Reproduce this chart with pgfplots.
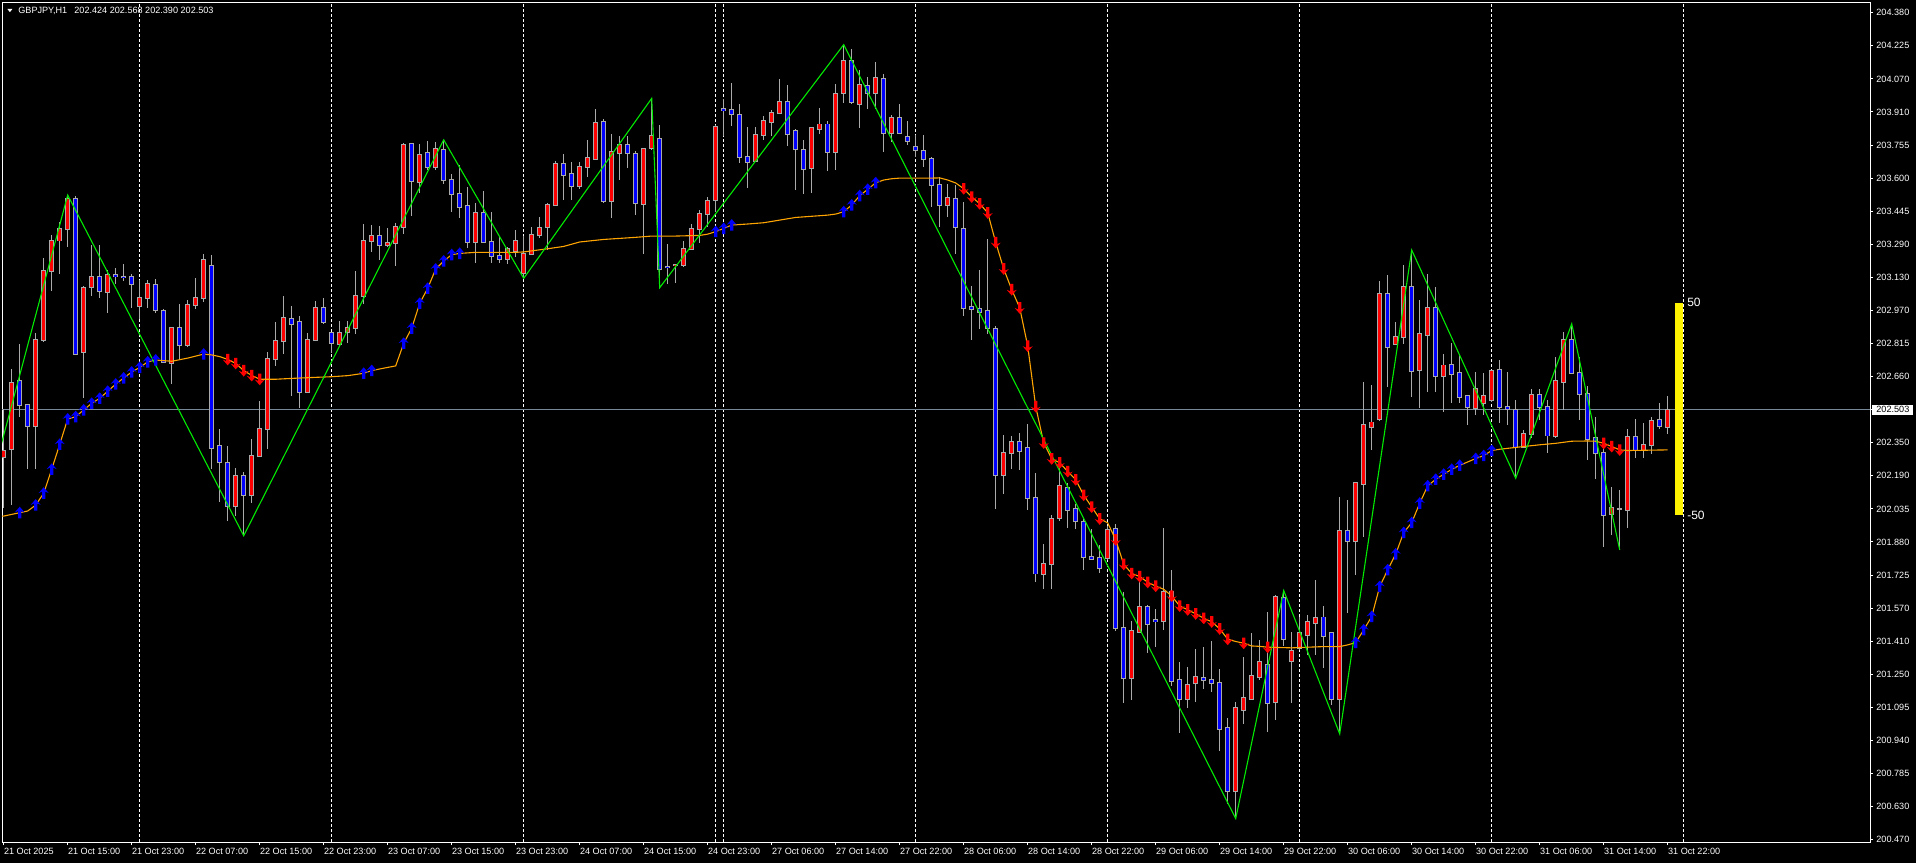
\documentclass[border=0pt]{standalone}
\usepackage{fontspec}
\setmainfont{Liberation Sans}
\usepackage{pgfplots}
\usepackage{pgfplotstable}
\pgfplotsset{compat=1.18}

\definecolor{wickgray}{RGB}{170,170,170}
\definecolor{bullred}{RGB}{255,0,0}
\definecolor{bearblue}{RGB}{0,0,255}
\definecolor{maorange}{RGB}{255,165,0}
\definecolor{zzgreen}{RGB}{0,235,0}
\definecolor{pricegray}{RGB}{119,136,153}

% arrow marks of the trend indicator
\pgfdeclareplotmark{uparr}{%
  \pgfpathmoveto{\pgfqpoint{0pt}{3pt}}%
  \pgfpathlineto{\pgfqpoint{2.5pt}{0.1pt}}%
  \pgfpathlineto{\pgfqpoint{0.85pt}{0.8pt}}%
  \pgfpathlineto{\pgfqpoint{0.85pt}{-2.8pt}}%
  \pgfpathlineto{\pgfqpoint{-0.85pt}{-2.8pt}}%
  \pgfpathlineto{\pgfqpoint{-0.85pt}{0.8pt}}%
  \pgfpathlineto{\pgfqpoint{-2.5pt}{0.1pt}}%
  \pgfpathclose\pgfusepathqfill}
\pgfdeclareplotmark{downarr}{%
  \pgfpathmoveto{\pgfqpoint{0pt}{-3pt}}%
  \pgfpathlineto{\pgfqpoint{2.5pt}{-0.1pt}}%
  \pgfpathlineto{\pgfqpoint{0.85pt}{-0.8pt}}%
  \pgfpathlineto{\pgfqpoint{0.85pt}{2.8pt}}%
  \pgfpathlineto{\pgfqpoint{-0.85pt}{2.8pt}}%
  \pgfpathlineto{\pgfqpoint{-0.85pt}{-0.8pt}}%
  \pgfpathlineto{\pgfqpoint{-2.5pt}{-0.1pt}}%
  \pgfpathclose\pgfusepathqfill}

% bullish candles (close > open), bar index i
\pgfplotstableread{
i o h l c
0 202.278 202.509 202.037 202.309
1 202.316 202.694 202.052 202.632
4 202.427 202.867 202.221 202.836
5 202.834 203.219 202.825 203.159
6 203.162 203.329 203.066 203.304
7 203.304 203.392 203.146 203.360
8 203.360 203.518 203.274 203.502
10 202.777 203.090 202.561 203.082
11 203.082 203.282 203.042 203.132
13 203.063 203.163 202.959 203.141
17 202.995 203.116 202.935 203.030
18 203.030 203.116 202.985 203.100
21 202.722 202.896 202.623 202.888
23 202.812 203.022 202.801 203.001
24 203.001 203.127 202.979 203.031
25 203.030 203.242 203.014 203.209
29 202.048 202.226 202.002 202.188
31 202.103 202.363 202.063 202.287
32 202.287 202.544 202.281 202.412
33 202.412 202.776 202.319 202.741
34 202.741 202.921 202.711 202.826
35 202.826 203.041 202.769 202.935
38 202.586 202.865 202.581 202.831
39 202.831 203.019 202.830 202.983
42 202.813 202.923 202.801 202.865
43 202.869 202.923 202.820 202.891
44 202.891 203.159 202.865 203.041
45 203.043 203.380 203.006 203.301
46 203.301 203.380 203.251 203.325
48 203.281 203.361 203.274 203.290
49 203.290 203.388 203.184 203.367
50 203.367 203.762 203.334 203.758
52 203.582 203.762 203.531 203.711
54 203.649 203.768 203.637 203.734
59 203.298 203.484 203.199 203.432
63 203.214 203.271 203.195 203.262
64 203.255 203.353 203.227 203.301
65 203.148 203.322 203.124 203.240
66 203.240 203.367 203.235 203.329
67 203.328 203.416 203.314 203.363
68 203.366 203.484 203.259 203.470
69 203.470 203.679 203.467 203.665
72 203.562 203.674 203.545 203.650
73 203.649 203.778 203.605 203.691
74 203.691 203.928 203.683 203.861
76 203.491 203.809 203.411 203.723
77 203.715 203.797 203.589 203.753
80 203.478 203.743 203.242 203.739
81 203.743 203.975 203.731 203.800
84 203.187 203.195 203.103 203.190
85 203.187 203.302 203.179 203.264
86 203.264 203.384 203.258 203.359
87 203.359 203.447 203.289 203.428
88 203.428 203.510 203.368 203.493
89 203.494 203.849 203.439 203.841
94 203.680 203.841 203.675 203.805
95 203.800 203.891 203.778 203.866
96 203.865 203.920 203.797 203.909
97 203.909 204.069 203.907 203.958
101 203.644 203.838 203.529 203.836
102 203.833 203.932 203.809 203.852
104 203.723 204.043 203.636 203.999
105 203.999 204.229 203.951 204.150
107 203.951 204.112 203.836 204.038
109 204.003 204.150 203.926 204.074
111 203.814 203.896 203.770 203.885
118 203.474 203.570 203.415 203.505
125 202.196 202.383 202.106 202.297
126 202.297 202.378 202.224 202.349
130 201.725 201.869 201.657 201.773
131 201.775 202.005 201.654 201.990
132 201.990 202.252 201.975 202.140
138 201.803 201.953 201.794 201.938
141 201.237 201.504 201.130 201.457
142 201.454 201.710 201.448 201.570
145 201.504 201.944 201.463 201.641
148 201.134 201.289 201.093 201.201
149 201.209 201.373 201.121 201.242
154 200.700 201.121 200.570 201.093
155 201.083 201.336 201.018 201.140
156 201.136 201.448 201.130 201.242
157 201.239 201.414 201.224 201.312
159 201.123 201.630 201.036 201.616
161 201.317 201.454 201.118 201.363
162 201.375 201.525 201.367 201.446
163 201.440 201.533 201.344 201.498
164 201.496 201.698 201.344 201.517
167 201.134 202.092 200.970 201.931
169 201.884 202.160 201.722 202.155
170 202.155 202.636 201.903 202.431
171 202.423 202.620 202.313 202.444
172 202.458 203.112 202.450 203.049
174 202.812 202.920 202.809 202.846
175 202.846 203.188 202.817 203.085
177 202.694 203.022 202.510 202.860
178 202.860 203.145 202.589 202.987
180 202.663 202.767 202.494 202.713
184 202.510 202.682 202.478 202.600
185 202.537 202.675 202.478 202.568
186 202.549 202.691 202.541 202.688
190 202.325 202.407 202.321 202.387
191 202.387 202.600 202.368 202.573
194 202.381 202.754 202.368 202.642
195 202.633 202.872 202.502 202.833
201 202.010 202.139 201.911 202.037
203 202.032 202.415 201.947 202.376
205 202.313 202.442 202.277 202.335
206 202.335 202.470 202.294 202.452
208 202.424 202.568 202.390 202.503
}\bull

% bearish candles (close <= open)
\pgfplotstableread{
i o h l c
2 202.642 202.814 202.467 202.524
3 202.524 202.530 202.224 202.426
9 203.498 203.513 202.760 202.769
12 203.129 203.282 203.034 203.063
14 203.141 203.176 203.100 203.134
15 203.132 203.192 203.113 203.130
16 203.129 203.148 202.985 203.100
19 203.091 203.123 202.959 202.973
20 202.973 202.982 202.725 202.730
22 202.888 203.001 202.743 202.812
26 203.186 203.233 202.224 202.325
27 202.330 202.412 202.068 202.254
28 202.254 202.331 201.975 202.048
30 202.188 202.207 201.907 202.100
36 202.935 202.994 202.570 202.912
37 202.917 202.946 202.513 202.586
40 202.983 203.035 202.912 202.917
41 202.865 202.873 202.770 202.817
47 203.325 203.372 203.210 203.281
51 203.758 203.766 203.421 203.582
53 203.716 203.775 203.637 203.649
55 203.734 203.779 203.572 203.588
56 203.588 203.616 203.440 203.522
57 203.526 203.660 203.410 203.465
58 203.465 203.555 203.270 203.298
60 203.432 203.537 203.290 203.295
61 203.298 203.437 203.199 203.229
62 203.229 203.322 203.195 203.214
70 203.665 203.712 203.494 203.611
71 203.616 203.674 203.494 203.562
75 203.861 203.876 203.482 203.491
78 203.753 203.797 203.646 203.715
79 203.715 203.727 203.423 203.483
82 203.786 203.849 203.080 203.171
83 203.179 203.289 203.100 203.176
90 203.923 203.975 203.800 203.920
91 203.920 204.049 203.844 203.899
92 203.899 203.951 203.668 203.699
93 203.699 203.841 203.554 203.675
98 203.958 204.038 203.750 203.809
99 203.820 203.833 203.542 203.734
100 203.734 203.778 203.526 203.644
103 203.852 203.869 203.633 203.723
106 204.150 204.211 203.951 203.956
108 204.035 204.077 203.926 204.003
110 204.069 204.090 203.723 203.814
112 203.885 203.948 203.809 203.814
113 203.794 203.869 203.754 203.776
114 203.746 203.802 203.699 203.731
115 203.727 203.802 203.649 203.687
116 203.687 203.699 203.463 203.568
117 203.568 203.605 203.368 203.474
119 203.502 203.565 203.242 203.365
120 203.359 203.483 202.944 202.987
121 202.987 203.088 202.832 202.978
122 202.978 203.163 202.888 202.968
123 202.972 203.309 202.860 202.888
124 202.886 202.897 202.032 202.196
127 202.349 202.392 202.219 202.308
128 202.320 202.435 202.032 202.084
129 202.084 202.205 201.691 201.729
133 202.136 202.159 201.944 202.032
134 202.032 202.056 201.938 201.975
135 201.975 201.990 201.744 201.809
136 201.807 201.938 201.794 201.800
137 201.800 201.863 201.729 201.757
139 201.942 201.962 201.457 201.472
140 201.472 201.639 201.117 201.237
143 201.571 201.579 201.351 201.491
144 201.508 201.564 201.383 201.504
146 201.641 201.744 201.196 201.220
147 201.224 201.312 200.977 201.134
150 201.237 201.383 201.181 201.224
151 201.227 201.411 201.168 201.212
152 201.212 201.276 200.891 200.996
153 200.999 201.046 200.640 200.700
158 201.299 201.548 200.981 201.120
160 201.612 201.648 201.386 201.418
165 201.522 201.575 201.281 201.435
166 201.446 201.454 201.107 201.134
168 201.931 202.076 201.541 201.884
173 203.049 203.140 202.612 202.801
176 203.085 203.258 202.565 202.685
179 202.987 203.082 202.589 202.663
181 202.713 202.817 202.533 202.671
182 202.675 202.762 202.533 202.562
183 202.568 202.570 202.431 202.515
187 202.694 202.738 202.442 202.515
188 202.515 202.682 202.431 202.507
189 202.500 202.549 202.179 202.325
192 202.573 202.600 202.455 202.515
193 202.515 202.549 202.300 202.381
196 202.833 202.909 202.672 202.678
197 202.678 202.754 202.455 202.578
198 202.581 202.617 202.266 202.368
199 202.373 202.470 202.174 202.302
200 202.300 202.329 201.853 202.006
202 202.035 202.124 201.840 202.035
204 202.376 202.458 202.277 202.313
207 202.452 202.538 202.411 202.428
}\bear

% moving average
\pgfplotstableread{
i m
-1 202.000
0 202.000
2 202.016
3 202.024
4 202.052
5 202.108
6 202.221
7 202.339
8 202.459
9 202.470
10 202.502
11 202.533
12 202.557
13 202.590
14 202.624
15 202.653
16 202.681
17 202.703
18 202.729
19 202.738
21 202.732
23 202.747
25 202.766
26 202.762
27 202.754
28 202.741
29 202.722
30 202.688
31 202.665
32 202.647
34 202.647
36 202.651
39 202.656
41 202.659
43 202.664
45 202.675
46 202.688
48 202.703
49 202.710
50 202.817
51 202.888
52 203.006
53 203.077
54 203.168
55 203.206
56 203.236
57 203.242
59 203.247
64 203.247
65 203.249
68 203.264
70 203.275
72 203.296
75 203.308
79 203.318
81 203.324
84 203.324
87 203.327
88 203.333
89 203.345
90 203.360
91 203.376
93 203.381
95 203.387
99 203.412
103 203.423
104 203.428
105 203.439
106 203.471
107 203.515
108 203.545
109 203.576
110 203.589
111 203.595
112 203.598
116 203.598
117 203.599
118 203.589
119 203.575
120 203.548
121 203.509
122 203.477
123 203.434
124 203.294
125 203.169
126 203.071
127 202.985
128 202.804
129 202.518
130 202.346
131 202.271
132 202.252
133 202.211
134 202.172
135 202.099
136 202.043
137 201.987
138 201.968
139 201.888
140 201.772
141 201.729
142 201.714
143 201.687
144 201.669
145 201.654
146 201.622
147 201.575
148 201.557
149 201.538
150 201.517
151 201.500
152 201.467
153 201.418
154 201.407
155 201.399
156 201.386
157 201.384
158 201.380
161 201.377
165 201.383
167 201.383
168 201.391
169 201.402
170 201.462
171 201.525
172 201.667
173 201.746
174 201.821
175 201.922
176 201.969
177 202.061
178 202.143
179 202.174
180 202.198
181 202.221
182 202.240
183 202.256
184 202.272
185 202.286
186 202.310
187 202.316
190 202.329
192 202.337
194 202.344
196 202.354
198 202.355
199 202.354
200 202.344
201 202.329
202 202.313
203 202.310
208 202.313
}\ma

% up arrows (trend up)
\pgfplotstableread{
i v
2 202.016
4 202.052
5 202.108
6 202.221
7 202.339
8 202.459
9 202.470
10 202.502
11 202.533
12 202.557
13 202.590
14 202.624
15 202.653
16 202.681
17 202.703
18 202.729
19 202.738
25 202.766
45 202.675
46 202.688
50 202.817
51 202.888
52 203.006
53 203.077
54 203.168
55 203.206
56 203.236
57 203.242
89 203.345
90 203.360
91 203.376
105 203.439
106 203.471
107 203.515
108 203.545
109 203.576
169 201.402
170 201.462
171 201.525
172 201.667
173 201.746
174 201.821
175 201.922
176 201.969
177 202.061
178 202.143
179 202.174
180 202.198
181 202.221
182 202.240
184 202.272
185 202.286
186 202.310
}\uparrows

% down arrows (trend down)
\pgfplotstableread{
i v
28 202.741
29 202.722
30 202.688
31 202.665
32 202.647
120 203.548
121 203.509
122 203.477
123 203.434
124 203.294
125 203.169
126 203.071
127 202.985
128 202.804
129 202.518
130 202.346
131 202.271
132 202.252
133 202.211
134 202.172
135 202.099
136 202.043
137 201.987
139 201.888
140 201.772
141 201.729
142 201.714
143 201.687
144 201.669
146 201.622
147 201.575
148 201.557
149 201.538
150 201.517
151 201.500
152 201.467
153 201.418
155 201.399
158 201.380
200 202.344
201 202.329
202 202.313
}\downarrows

% zigzag pivots
\pgfplotstableread{
i p
-1 202.240
8 203.518
30 201.907
55 203.779
65 203.124
81 203.975
82 203.080
105 204.229
154 200.570
160 201.648
167 200.970
176 203.258
189 202.179
196 202.909
202 201.840
}\zigzag

\pgfplotsset{
  candlewick/.style={draw=none, mark=none, forget plot,
    error bars/.cd, y dir=both, y explicit, error mark=none,
    error bar style={line width=0.5pt, draw=wickgray}},
  candleedge/.style={draw=none, mark=none, forget plot,
    error bars/.cd, y dir=both, y explicit, error mark=none,
    error bar style={line width=2.6pt, draw=wickgray}},
  candlebody/.style={draw=none, mark=none, forget plot,
    error bars/.cd, y dir=both, y explicit, error mark=none,
    error bar style={line width=1.6pt, draw=#1}},
}

\newcommand\lbl{\fontsize{4.55}{5}\selectfont}

\begin{document}
\begin{tikzpicture}
\fill[black] (-1pt,-10.5pt) rectangle (957pt,421pt);
\begin{axis}[
  at={(0pt,0pt)}, anchor=south west,
  scale only axis, width=934pt, height=419.5pt,
  xmin=-0.2125, xmax=233.2875,
  ymin=200.459, ymax=204.426,
  axis line style={white, line width=0.5pt},
  tick align=outside, major tick length=1.5pt,
  tick style={white, line width=0.5pt},
  xtick pos=left, ytick pos=right, yticklabel pos=right,
  xtick={0,8,...,208},
  xticklabels={21 Oct 2025,21 Oct 15:00,21 Oct 23:00,22 Oct 07:00,22 Oct 15:00,22 Oct 23:00,23 Oct 07:00,23 Oct 15:00,23 Oct 23:00,24 Oct 07:00,24 Oct 15:00,24 Oct 23:00,27 Oct 06:00,27 Oct 14:00,27 Oct 22:00,28 Oct 06:00,28 Oct 14:00,28 Oct 22:00,29 Oct 06:00,29 Oct 14:00,29 Oct 22:00,30 Oct 06:00,30 Oct 14:00,30 Oct 22:00,31 Oct 06:00,31 Oct 14:00,31 Oct 22:00},
  ytick={200.470,200.6264,200.7828,200.9392,201.0956,201.252,201.4084,201.5648,201.7212,201.8776,202.034,202.1904,202.3468,202.5032,202.6596,202.816,202.9724,203.1288,203.2852,203.4416,203.598,203.7544,203.9108,204.0672,204.2236,204.380},
  yticklabels={200.470,200.630,200.785,200.940,201.095,201.250,201.410,201.570,201.725,201.880,202.035,202.190,202.350,{},202.660,202.815,202.970,203.130,203.290,203.445,203.600,203.755,203.910,204.070,204.225,204.380},
  xticklabel style={anchor=north west, inner sep=0pt, yshift=-1.6pt, text=white, font=\lbl},
  yticklabel style={anchor=west, inner sep=0pt, xshift=1.5pt, text=white, font=\lbl},
  extra x ticks={17,41,65,89,90,114,138,162,186,210},
  extra x tick labels={},
  extra x tick style={grid=major, major tick length=0pt,
    major grid style={white, line width=0.5pt, dash pattern=on 1.5pt off 1pt}},
]
% current price line
\addplot[pricegray, line width=0.5pt, forget plot] coordinates {(-1,202.503) (240,202.503)};

% candles
\addplot[candlewick] table[x=i, y expr=(\thisrow{h}+\thisrow{l})/2, y error expr=(\thisrow{h}-\thisrow{l})/2] {\bull};
\addplot[candlewick] table[x=i, y expr=(\thisrow{h}+\thisrow{l})/2, y error expr=(\thisrow{h}-\thisrow{l})/2] {\bear};
\addplot[candleedge] table[x=i, y expr=(\thisrow{o}+\thisrow{c})/2, y error expr=abs(\thisrow{c}-\thisrow{o})/2+0.0047] {\bull};
\addplot[candleedge] table[x=i, y expr=(\thisrow{o}+\thisrow{c})/2, y error expr=abs(\thisrow{c}-\thisrow{o})/2+0.0047] {\bear};
\addplot[candlebody=bullred] table[x=i, y expr=(\thisrow{o}+\thisrow{c})/2, y error expr=abs(\thisrow{c}-\thisrow{o})/2] {\bull};
\addplot[candlebody=bearblue] table[x=i, y expr=(\thisrow{o}+\thisrow{c})/2, y error expr=abs(\thisrow{c}-\thisrow{o})/2] {\bear};

% moving average and trend arrows
\addplot[maorange, line width=0.55pt, mark=none] table[x=i, y=m] {\ma};
\addplot[only marks, mark=uparr, bearblue] table[x=i, y=v] {\uparrows};
\addplot[only marks, mark=downarr, bullred] table[x=i, y=v] {\downarrows};

% zigzag
\addplot[zzgreen, line width=0.55pt, mark=none] table[x=i, y=p] {\zigzag};

% yellow oscillator bar
\addplot[fill=yellow, draw=none] coordinates {(208.91,202.005) (209.95,202.005) (209.95,203.009) (208.91,203.009)} -- cycle;

\coordinate (pl) at (axis cs:233.2875,202.503);
\coordinate (ya) at (axis cs:210.4,203.009);
\coordinate (yb) at (axis cs:210.4,202.005);
\end{axis}
\node[fill=white, text=black, font=\lbl, inner xsep=2pt, inner ysep=0pt, minimum height=5pt, anchor=west] at ([xshift=1pt]pl) {202.503};
\node[anchor=west, inner sep=0pt, text=white, font=\fontsize{6}{7}\selectfont] at (ya) {50};
\node[anchor=west, inner sep=0pt, text=white, font=\fontsize{6}{7}\selectfont] at (yb) {-50};
\fill[white] (2.65pt,416.6pt) -- (5.25pt,416.6pt) -- (3.95pt,414.9pt) -- cycle;
\node[anchor=west, inner sep=0pt, text=white, font=\lbl] at (8pt,415.7pt) {GBPJPY,H1};
\node[anchor=west, inner sep=0pt, text=white, font=\lbl] at (36pt,415.7pt) {202.424 202.568 202.390 202.503};
\pgfresetboundingbox
\useasboundingbox (-1pt,-10.5pt) rectangle (957pt,421pt);
\end{tikzpicture}
\end{document}
